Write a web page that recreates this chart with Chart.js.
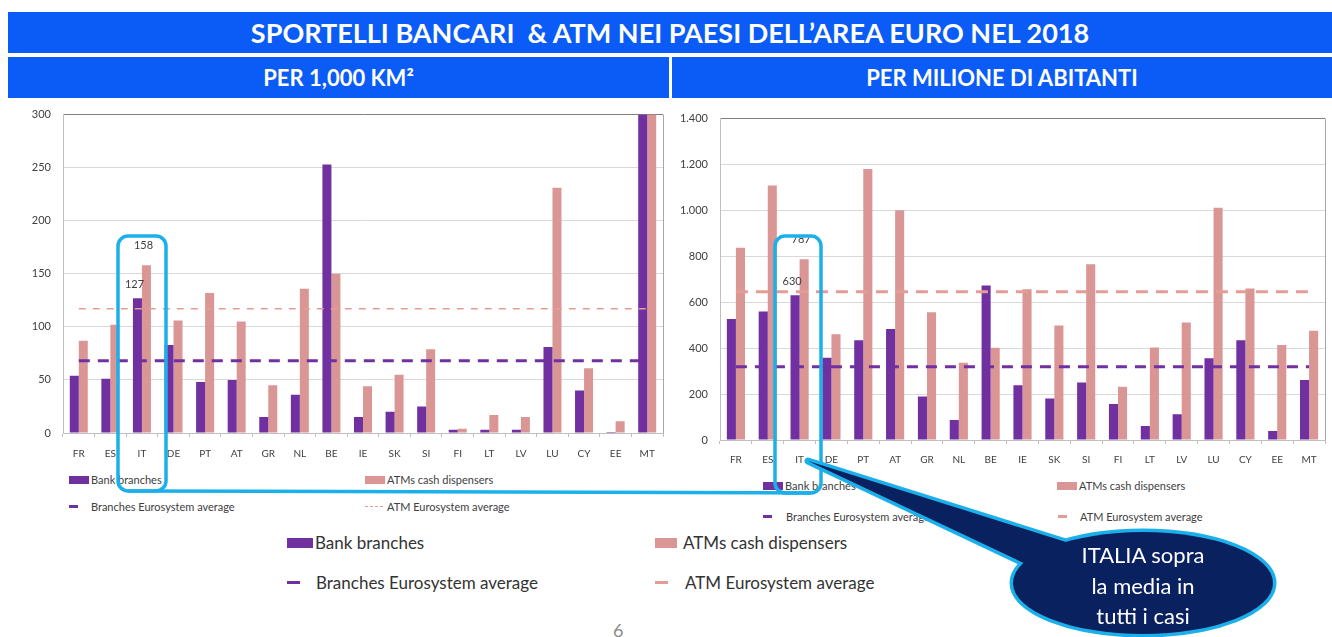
<!DOCTYPE html>
<html lang="it">
<head>
  <meta charset="UTF-8" />
  <title>Sportelli bancari & ATM nei paesi dell'area euro nel 2018</title>
  <style>
    * { box-sizing: border-box; margin: 0; padding: 0; }
    body {
      width: 1332px; height: 637px; position: relative; overflow: hidden;
      background: #fff; font-family: Lato, 'Open Sans', sans-serif; color: #404040;
    }
    .band {
      position: absolute; background: #0b5cf7; color: #fff; font-weight: 700;
      display: flex; align-items: center; justify-content: center; white-space: nowrap;
    }
    #title { left: 8px; top: 12px; width: 1324px; height: 41px; font-size: 27px; }
    #subL { left: 8px; top: 57px; width: 661px; height: 41px; font-size: 22px; }
    #subR { left: 672px; top: 57px; width: 660px; height: 41px; font-size: 22px; }
    canvas { position: absolute; }
    .lg { position: absolute; white-space: nowrap; display: flex; align-items: center; }
    .lg i { display: inline-block; margin-right: 2px; }
    .small { font-size: 11px; color: #404040; }
    .big { font-size: 17px; color: #333; }
    #pageno { position: absolute; left: 613px; top: 619px; font-size: 18px; color: #8c8c8c; }
    svg { position: absolute; left: 0; top: 0; pointer-events: none; }
  </style>
  <script src="https://cdn.jsdelivr.net/npm/chart.js"></script>
</head>
<body>
  <div class="band" id="title">SPORTELLI BANCARI&nbsp; &amp; ATM NEI PAESI DELL’AREA EURO NEL 2018</div>
  <div class="band" id="subL">PER 1,000 KM²</div>
  <div class="band" id="subR">PER MILIONE DI ABITANTI</div>

  <canvas id="chartKm" width="670" height="374" style="left:0;top:96px;width:670px;height:374px"></canvas>
  <canvas id="chartPop" width="662" height="375" style="left:670px;top:100px;width:662px;height:375px"></canvas>

  <!-- legends under each chart -->
  <div class="lg small" style="left:69px;top:473px"><i style="width:20px;height:8px;background:#7030a0"></i>Bank branches</div>
  <div class="lg small" style="left:365px;top:473px"><i style="width:20px;height:8px;background:#d99694"></i>ATMs cash dispensers</div>
  <div class="lg small" style="left:69px;top:500px"><i style="width:9px;height:3px;background:#7030a0;margin-right:13px"></i>Branches Eurosystem average</div>
  <div class="lg small" style="left:365px;top:500px"><i style="width:18px;height:0;border-top:1.5px dashed #e39d95;margin-right:4px"></i>ATM Eurosystem average</div>

  <div class="lg small" style="left:763px;top:479px"><i style="width:20px;height:8px;background:#7030a0"></i>Bank branches</div>
  <div class="lg small" style="left:1057px;top:479px"><i style="width:20px;height:8px;background:#d99694"></i>ATMs cash dispensers</div>
  <div class="lg small" style="left:763px;top:510px"><i style="width:9px;height:3px;background:#7030a0;margin-right:14px"></i>Branches Eurosystem average</div>
  <div class="lg small" style="left:1058px;top:510px"><i style="width:9px;height:3px;background:#e39d95;margin-right:13px"></i>ATM Eurosystem average</div>

  <div class="lg big" style="left:287px;top:532px"><i style="width:26px;height:10px;background:#7030a0"></i>Bank branches</div>
  <div class="lg big" style="left:655px;top:532px"><i style="width:22px;height:10px;background:#d99694;margin-right:6px"></i>ATMs cash dispensers</div>
  <div class="lg big" style="left:287px;top:572px"><i style="width:13px;height:3px;background:#7030a0;margin-right:16px"></i>Branches Eurosystem average</div>
  <div class="lg big" style="left:655px;top:572px"><i style="width:13px;height:3px;background:#e39d95;margin-right:17px"></i>ATM Eurosystem average</div>

  <div id="pageno">6</div>

  <svg width="1332" height="637" viewBox="0 0 1332 637">
    <!-- Italy highlight -->
    <g fill="none" stroke="#1cb0ea" stroke-width="3.5">
      <rect x="118" y="236" width="48" height="255" rx="10" />
      <rect x="775" y="236" width="46" height="257" rx="10" />
      <path d="M 128 491 L 811 493" />
    </g>
    <!-- callout -->
    <g stroke="#1cb0ea" stroke-width="7" stroke-linejoin="round">
      <path d="M 808 461 L 1066 542 L 1030 566 Z" fill="#0a2160" />
      <ellipse cx="1143" cy="583" rx="130" ry="51" fill="#0a2160" />
    </g>
    <g fill="#0a2160">
      <path d="M 808 461 L 1066 542 L 1030 566 Z" />
      <ellipse cx="1143" cy="583" rx="130" ry="51" />
    </g>
    <g fill="#fff" font-family="Lato, sans-serif" font-size="22" text-anchor="middle">
      <text x="1143" y="563">ITALIA sopra</text>
      <text x="1143" y="594">la media in</text>
      <text x="1143" y="624">tutti i casi</text>
    </g>
  </svg>

  <script>
    const countries = ['FR', 'ES', 'IT', 'DE', 'PT', 'AT', 'GR', 'NL', 'BE', 'IE', 'SK', 'SI', 'FI', 'LT', 'LV', 'LU', 'CY', 'EE', 'MT'];

    // per 1,000 km2
    const branchesKm = [54, 51, 127, 83, 48, 50, 15, 36, 253, 15, 20, 25, 3, 3, 3, 81, 40, 1, 300];
    const atmsKm = [87, 102, 158, 106, 132, 105, 45, 136, 150, 44, 55, 79, 4, 17, 15, 231, 61, 11, 300];
    const branchesKmAvg = 68;
    const atmsKmAvg = 117;

    // per milione di abitanti
    const branchesPop = [527, 560, 630, 358, 435, 483, 189, 87, 673, 239, 181, 251, 157, 61, 112, 356, 435, 39, 261];
    const atmsPop = [837, 1109, 787, 461, 1180, 1001, 557, 337, 402, 657, 499, 766, 232, 403, 512, 1012, 660, 414, 476];
    const branchesPopAvg = 319;
    const atmsPopAvg = 646;

    const purple = '#7030a0';
    const pink = '#d99694';
    const pinkLine = '#e39d95';
    const highlightIndex = countries.indexOf('IT');

    // frame of the plot area + value labels for Italy
    const framePlugin = {
      id: 'frame',
      beforeDatasetsDraw(chart) {
        const { ctx, chartArea: a } = chart;
        ctx.save();
        ctx.strokeStyle = '#a6a6a6';
        ctx.lineWidth = 1;
        ctx.beginPath();
        ctx.moveTo(a.right + 0.5, a.top);
        ctx.lineTo(a.right + 0.5, a.bottom);
        ctx.stroke();
        ctx.restore();
      },
      afterDatasetsDraw(chart) {
        const { ctx } = chart;
        ctx.save();
        ctx.font = '11px Lato, sans-serif';
        ctx.fillStyle = '#404040';
        ctx.textAlign = 'center';
        ctx.textBaseline = 'bottom';
        // datasets 2 and 3 are the bars
        [[2, 8], [3, 14]].forEach(([d, gap]) => {
          const bar = chart.getDatasetMeta(d).data[highlightIndex];
          const v = chart.data.datasets[d].data[highlightIndex];
          ctx.fillText(String(v), bar.x - 3, bar.y - gap);
        });
        ctx.restore();
      }
    };

    function makeChart(id, branches, atms, bAvg, aAvg, max, step, opts) {
      const ctx = document.getElementById(id).getContext('2d');
      return new Chart(ctx, {
        type: 'bar',
        data: {
          labels: countries,
          datasets: [
            {
              type: 'line', label: 'Branches Eurosystem average',
              data: countries.map(() => bAvg),
              borderColor: purple, borderWidth: 3, borderDash: [11, 8],
              pointRadius: 0, fill: false, order: 0
            },
            {
              type: 'line', label: 'ATM Eurosystem average',
              data: countries.map(() => aAvg),
              borderColor: pinkLine, borderWidth: opts.atmLineWidth, borderDash: opts.atmDash,
              pointRadius: 0, fill: false, order: 0
            },
            {
              label: 'Bank branches', data: branches, backgroundColor: purple,
              barPercentage: 1, categoryPercentage: 0.57, order: 1
            },
            {
              label: 'ATMs cash dispensers', data: atms, backgroundColor: pink,
              barPercentage: 1, categoryPercentage: 0.57, order: 1
            }
          ]
        },
        options: {
          responsive: false,
          animation: false,
          layout: { padding: { left: 0, right: 7, top: opts.padTop, bottom: 0 } },
          plugins: { legend: { display: false }, tooltip: { enabled: false } },
          scales: {
            x: {
              grid: { display: true, drawOnChartArea: false, tickLength: 4, color: '#bfbfbf' },
              border: { color: '#bfbfbf' },
              ticks: { color: '#404040', font: { family: 'Lato', size: 10 }, padding: opts.xPad, maxRotation: 0, autoSkip: false },
              afterFit: s => { s.height = opts.xHeight; }
            },
            y: {
              min: 0, max: max,
              grid: {
                color: c => (c.tick && c.tick.value === max ? '#7f7f7f' : '#d9d9d9'),
                drawTicks: false
              },
              border: { color: '#bfbfbf' },
              ticks: {
                stepSize: step, padding: 12, color: '#404040',
                font: { family: 'Lato', size: 11 },
                callback: v => String(v).replace(/\B(?=(\d{3})+(?!\d))/g, '.')
              },
              afterFit: s => { s.width = opts.yWidth; }
            }
          }
        },
        plugins: [framePlugin]
      });
    }

    // chart area km: left 63, top 114, bottom 433
    makeChart('chartKm', branchesKm, atmsKm, branchesKmAvg, atmsKmAvg, 300, 50,
      { padTop: 10, yWidth: 63, xHeight: 37, xPad: 11, atmLineWidth: 1.5, atmDash: [7, 7] });
    // chart area pop: left 720, top 118, bottom 440
    makeChart('chartPop', branchesPop, atmsPop, branchesPopAvg, atmsPopAvg, 1400, 200,
      { padTop: 18, yWidth: 50, xHeight: 35, xPad: 10, atmLineWidth: 3, atmDash: [12, 8] });
  </script>
</body>
</html>
